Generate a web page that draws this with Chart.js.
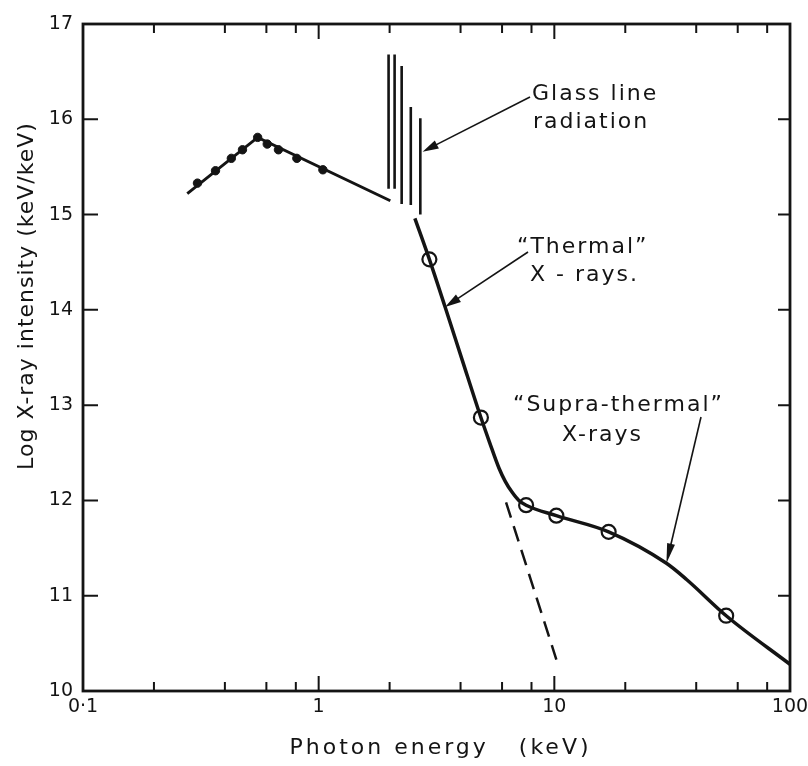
<!DOCTYPE html>
<html lang="en">
<head>
<meta charset="UTF-8" />
<title>Log X-ray intensity vs photon energy</title>
<style>
    html, body { margin: 0; padding: 0; background: #fff; }
    #wrap { width: 808px; height: 766px; }
</style>
</head>
<body>
<div id="wrap"><canvas id="spectrum" width="808" height="766"></canvas></div>

<script src="https://cdn.jsdelivr.net/npm/chart.js"></script>
<script>
    // Values (photon energy in keV, log intensity)
    const dotE = [0.306, 0.365, 0.426, 0.475, 0.551, 0.605, 0.675, 0.808, 1.042];
    const dotI = [15.33, 15.46, 15.59, 15.68, 15.81, 15.74, 15.68, 15.59, 15.47];

    const lowLineE = [0.277, 0.551, 2.014];
    const lowLineI = [15.22, 15.81, 15.145];

    const glassE = [1.98, 2.10, 2.25, 2.46, 2.70];
    const glassTop = [16.68, 16.68, 16.56, 16.13, 16.01];
    const glassBottom = [15.27, 15.27, 15.11, 15.10, 15.00];

    const curveE = [2.56, 2.95, 3.44, 4.07, 4.88, 5.31, 5.82, 6.19, 6.60, 7.07, 7.59, 10.2, 17.0, 29.9, 36.4, 53.6, 100];
    const curveI = [14.96, 14.53, 14.03, 13.47, 12.87, 12.61, 12.34, 12.20, 12.09, 12.00, 11.95, 11.84, 11.67, 11.34, 11.17, 10.79, 10.28];

    const circleE = [2.95, 4.88, 7.59, 10.2, 17.0, 53.6];
    const circleI = [14.53, 12.87, 11.95, 11.84, 11.67, 10.79];

    const dashE = [6.24, 10.2];
    const dashI = [11.98, 10.33];

    const xLabelTicks = [0.1, 1, 10, 100];
    const xMinorTicks = [0.2, 0.4, 0.6, 0.8, 2, 4, 6, 8, 20, 40, 60, 80];
    const xMajorTicks = [1, 10];
    const yTicks = [11, 12, 13, 14, 15, 16];

    // arrow tips sit on the data, tails are where the labels are
    const glassTip = [2.76, 15.66];
    const thermalTip = [3.44, 14.03];
    const supraTip = [29.9, 11.34];

    const INK = '#141414';
    const FONT = 'DejaVu Sans';

    const pts = (xs, ys) => xs.map((v, i) => ({ x: v, y: ys[i] }));

    function glassSegments() {
        const out = [];
        glassE.forEach((e, i) => {
            out.push({ x: e, y: glassBottom[i] }, { x: e, y: glassTop[i] }, { x: e, y: null });
        });
        return out;
    }

    function arrow(ctx, x0, y0, x1, y1, len, half) {
        const ang = Math.atan2(y1 - y0, x1 - x0);
        const c = Math.cos(ang), s = Math.sin(ang);
        ctx.beginPath();
        ctx.moveTo(x0, y0);
        ctx.lineTo(x1 - len * 0.8 * c, y1 - len * 0.8 * s);
        ctx.stroke();
        ctx.beginPath();
        ctx.moveTo(x1, y1);
        ctx.lineTo(x1 - len * c + half * s, y1 - len * s - half * c);
        ctx.lineTo(x1 - len * c - half * s, y1 - len * s + half * c);
        ctx.closePath();
        ctx.fill();
    }

    // frame, inward ticks, axis titles, labels and arrows
    const sketch = {
        id: 'sketch',
        beforeDraw(chart) {
            chart.ctx.letterSpacing = '0px';
        },
        afterDatasetsDraw(chart) {
            const { ctx, chartArea: a, scales: { x, y } } = chart;
            ctx.save();
            ctx.strokeStyle = INK;
            ctx.fillStyle = INK;
            ctx.lineWidth = 2.8;
            ctx.lineCap = 'butt';
            ctx.strokeRect(a.left, a.top, a.right - a.left, a.bottom - a.top);

            ctx.lineWidth = 2;
            ctx.beginPath();
            xMinorTicks.forEach(v => {
                const px = x.getPixelForValue(v);
                ctx.moveTo(px, a.bottom); ctx.lineTo(px, a.bottom - 9);
                ctx.moveTo(px, a.top); ctx.lineTo(px, a.top + 9);
            });
            xMajorTicks.forEach(v => {
                const px = x.getPixelForValue(v);
                ctx.moveTo(px, a.bottom); ctx.lineTo(px, a.bottom - 15);
                ctx.moveTo(px, a.top); ctx.lineTo(px, a.top + 15);
            });
            yTicks.forEach(v => {
                const py = y.getPixelForValue(v);
                ctx.moveTo(a.left, py); ctx.lineTo(a.left + 15, py);
                ctx.moveTo(a.right, py); ctx.lineTo(a.right - 12, py);
            });
            ctx.stroke();

            // axis titles
            ctx.font = '22px "' + FONT + '"';
            ctx.textAlign = 'center';
            ctx.textBaseline = 'middle';
            ctx.letterSpacing = '3px';
            ctx.fillText('Photon energy   (keV)', (a.left + a.right) / 2 + 4, 748);
            ctx.save();
            ctx.translate(27, 296);
            ctx.rotate(-Math.PI / 2);
            ctx.letterSpacing = '1px';
            ctx.fillText('Log X-ray intensity (keV/keV)', 0, 0);
            ctx.restore();

            // annotations
            ctx.letterSpacing = '2px';
            ctx.textBaseline = 'alphabetic';
            ctx.textAlign = 'left';
            ctx.fillText('Glass line', 532, 100);
            ctx.fillText('radiation', 533, 128);
            ctx.fillText('\u201CThermal\u201D', 517, 253);
            ctx.fillText('X - rays.', 530, 281);
            ctx.fillText('\u201CSupra-thermal\u201D', 513, 411);
            ctx.fillText('X-rays', 562, 441);

            ctx.lineWidth = 1.6;
            arrow(ctx, 530, 97, x.getPixelForValue(glassTip[0]), y.getPixelForValue(glassTip[1]), 16, 4.5);
            arrow(ctx, 528, 252, x.getPixelForValue(thermalTip[0]), y.getPixelForValue(thermalTip[1]), 16, 4.5);
            arrow(ctx, 701, 417, x.getPixelForValue(supraTip[0]), y.getPixelForValue(supraTip[1]), 20, 4);
            ctx.restore();
        }
    };

    const ctx = document.getElementById('spectrum').getContext('2d');
    const chart = new Chart(ctx, {
        type: 'line',
        data: {
            datasets: [
                {
                    data: pts(lowLineE, lowLineI),
                    borderColor: INK, borderWidth: 3,
                    pointRadius: 0, tension: 0
                },
                {
                    data: pts(dotE, dotI),
                    showLine: false,
                    pointRadius: 4.2, pointBackgroundColor: INK, pointBorderColor: INK, pointBorderWidth: 1
                },
                {
                    data: glassSegments(),
                    borderColor: INK, borderWidth: 2.6,
                    pointRadius: 0, spanGaps: false, tension: 0
                },
                {
                    data: pts(curveE, curveI),
                    borderColor: INK, borderWidth: 3.5,
                    pointRadius: 0, cubicInterpolationMode: 'monotone'
                },
                {
                    data: pts(dashE, dashI),
                    borderColor: INK, borderWidth: 2.5, borderDash: [16, 9],
                    pointRadius: 0, tension: 0
                },
                {
                    data: pts(circleE, circleI),
                    showLine: false,
                    pointRadius: 7, pointBackgroundColor: '#fff', pointBorderColor: INK, pointBorderWidth: 2.2
                }
            ]
        },
        options: {
            responsive: false,
            animation: false,
            devicePixelRatio: 1,
            layout: { padding: { top: 24, right: 18, left: 0, bottom: 0 } },
            plugins: { legend: { display: false }, tooltip: { enabled: false } },
            scales: {
                x: {
                    type: 'logarithmic',
                    min: 0.1,
                    max: 100,
                    afterBuildTicks: s => { s.ticks = xLabelTicks.map(v => ({ value: v })); },
                    afterFit: s => { s.height = 75; s.paddingLeft = 0; s.paddingRight = 0; },
                    grid: { display: false, drawTicks: false },
                    border: { display: false },
                    ticks: {
                        autoSkip: false, maxRotation: 0, padding: 5,
                        color: INK, font: { family: FONT, size: 19 },
                        callback: v => (v === 0.1 ? '0\u00B71' : String(v))
                    }
                },
                y: {
                    type: 'linear',
                    min: 10,
                    max: 17,
                    afterFit: s => { s.width = 83; s.paddingTop = 0; s.paddingBottom = 0; },
                    grid: { display: false, drawTicks: false },
                    border: { display: false },
                    ticks: {
                        stepSize: 1, padding: 10,
                        color: INK, font: { family: FONT, size: 19 }
                    }
                }
            }
        },
        plugins: [sketch]
    });
</script>
</body>
</html>
